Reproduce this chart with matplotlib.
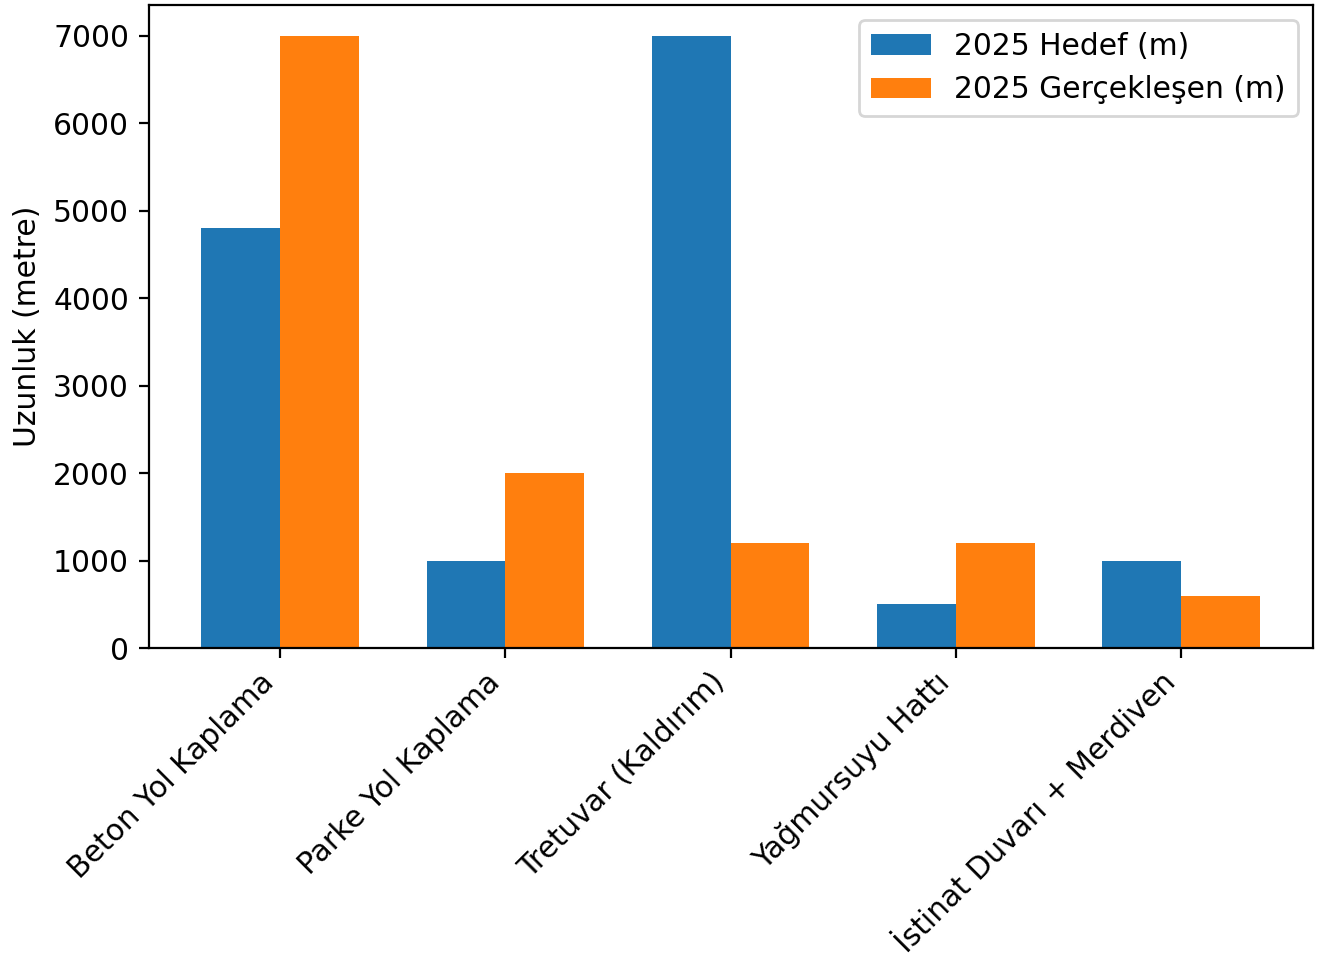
import matplotlib.pyplot as plt
import numpy as np

# Kategoriler ve değerler
categories = ["Beton Yol Kaplama", "Parke Yol Kaplama", "Tretuvar (Kaldırım)",
              "Yağmursuyu Hattı", "İstinat Duvarı + Merdiven"]
hedef = [4800, 1000, 7000, 500, 1000]
gerceklesen = [7000, 2000, 1200, 1200, 600]

plt.rcParams['font.size'] = 10.7

x = np.arange(len(categories))
width = 0.35

fig, ax = plt.subplots(figsize=(6.63, 4.88), dpi=200)
ax.bar(x - width / 2, hedef, width, label="2025 Hedef (m)")
ax.bar(x + width / 2, gerceklesen, width, label="2025 Gerçekleşen (m)")

ax.set_ylabel("Uzunluk (metre)")
ax.set_xticks(x)
ax.set_xticklabels(categories, rotation=45, ha="right")
ax.legend()

plt.subplots_adjust(left=0.112, right=0.990, top=0.995, bottom=0.336)
plt.savefig("out.png")
